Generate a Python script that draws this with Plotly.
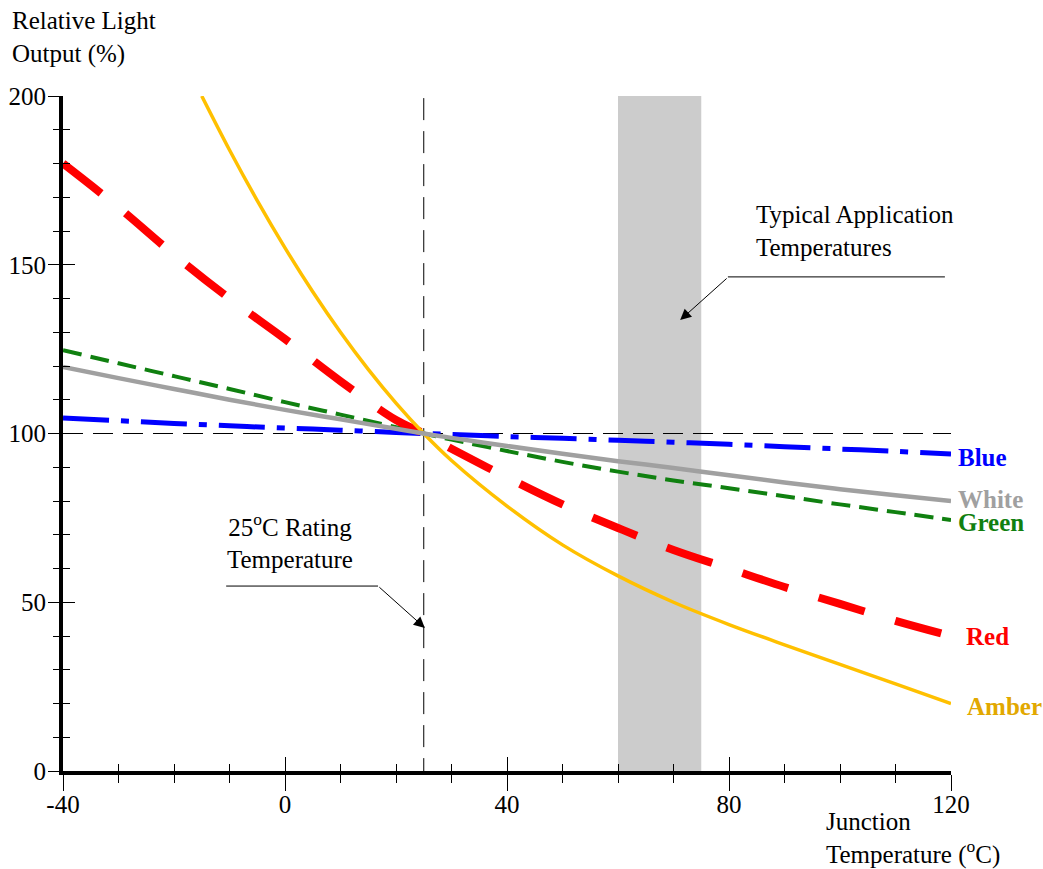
import plotly.graph_objects as go

# ---------------- data ----------------
temps = [-40, -30, -20, -10, 0, 10, 20, 25, 30, 40, 50, 60, 70, 80, 90, 100, 110, 120]
blue = [104.6, 103.8, 103, 102.3, 101.6, 101, 100.3, 100, 99.7, 99.1, 98.6, 98, 97.4, 96.8, 96.1, 95.4, 94.7, 93.9]
white = [119.7, 116.4, 113.2, 110, 107, 104.2, 101.4, 100, 98.7, 96.3, 94, 91.8, 89.8, 87.6, 85.5, 83.5, 81.7, 80]
green = [124.7, 120.8, 117, 113.2, 109.3, 105.6, 101.9, 100, 98.2, 94.8, 91.6, 88.7, 86.1, 83.8, 81.4, 79, 76.7, 74.4]
red = [180, 167, 153, 140, 128, 115.5, 104, 100, 95.5, 87, 79, 72, 65.5, 60, 54.5, 49.5, 44.5, 40]

amber_temps = [-15, -10, -5, 0, 5, 10, 15, 20, 25, 30, 40, 50, 60, 70, 80, 90, 100, 110, 120]
amber = [200, 184, 169, 155, 142, 130, 119, 109, 100, 92, 78.5, 67, 57.8, 50, 43.4, 37.4, 31.6, 25.8, 20]

rating_temp = 25          # vertical reference line
reference_level = 100     # horizontal reference line
band_start, band_end = 60, 75   # typical application temperatures
x_range = [-40, 120]
y_range = [0, 200]
x_ticks = [-40, 0, 40, 80, 120]
x_tick_text = ["-40", "0", "40", "80", "120"]
y_ticks = [0, 50, 100, 150, 200]
y_tick_text = ["0", "50", "100", "150", "200"]

FONT = "Liberation Serif"
C_BLUE = "#0000ff"
C_WHITE = "#a0a0a0"
C_GREEN = "#108010"
C_RED = "#ff0000"
C_AMBER = "#ffc000"
C_AMBER_TXT = "#e2a800"

fig = go.Figure()

# reference dashed lines
fig.add_trace(go.Scatter(x=x_range, y=[reference_level, reference_level], mode="lines",
                         line=dict(color="black", width=1, dash="20px,10px"), hoverinfo="skip"))
fig.add_trace(go.Scatter(x=[rating_temp, rating_temp], y=[y_range[0] - 2.7, y_range[1]], mode="lines",
                         line=dict(color="black", width=1, dash="22px,11px"), hoverinfo="skip",
                         cliponaxis=False))

# series
fig.add_trace(go.Scatter(x=temps, y=blue, mode="lines", name="Blue",
                         line=dict(color=C_BLUE, width=5, dash="46px,12px,8px,12px", shape="spline")))
fig.add_trace(go.Scatter(x=temps, y=green, mode="lines", name="Green",
                         line=dict(color=C_GREEN, width=4, dash="19px,9px", shape="spline")))
fig.add_trace(go.Scatter(x=temps, y=red, mode="lines", name="Red",
                         line=dict(color=C_RED, width=8, dash="48px,32px", shape="spline")))
fig.add_trace(go.Scatter(x=amber_temps, y=amber, mode="lines", name="Amber",
                         line=dict(color=C_AMBER, width=3.5, shape="spline")))
fig.add_trace(go.Scatter(x=temps, y=white, mode="lines", name="White",
                         line=dict(color=C_WHITE, width=4.5, shape="spline")))

# dummy trace for the overlay axes (inner tick halves)
fig.add_trace(go.Scatter(x=[], y=[], xaxis="x2", yaxis="y2", mode="lines", hoverinfo="skip"))

# gray band
fig.add_shape(type="rect", xref="x", yref="y", x0=band_start, x1=band_end, y0=y_range[0], y1=y_range[1],
              fillcolor="#cccccc", line=dict(width=0), layer="below")

tick_font = dict(family=FONT, size=25, color="black")

fig.update_layout(
    width=1043, height=869,
    margin=dict(l=63, r=92, t=96, b=98),
    paper_bgcolor="white", plot_bgcolor="white",
    showlegend=False,
    xaxis=dict(range=x_range, tickvals=x_ticks, ticktext=x_tick_text, ticks="outside", ticklen=16,
               tickwidth=1.3, tickcolor="black", showline=True, linewidth=4, linecolor="black",
               showgrid=False, zeroline=False, tickfont=tick_font, ticklabelstandoff=-8, automargin=False,
               minor=dict(dtick=10, tick0=0, ticks="outside", ticklen=8, tickwidth=1.1, tickcolor="black",
                          showgrid=False)),
    yaxis=dict(range=y_range, tickvals=y_ticks, ticktext=y_tick_text, ticks="outside", ticklen=11,
               tickwidth=1.3, tickcolor="black", showline=True, linewidth=4, linecolor="black",
               showgrid=False, zeroline=False, tickfont=tick_font, ticklabelstandoff=-3, automargin=False,
               minor=dict(dtick=10, tick0=0, ticks="outside", ticklen=6, tickwidth=1.1, tickcolor="black",
                          showgrid=False)),
    xaxis2=dict(range=x_range, overlaying="x", anchor="y", side="bottom", tickvals=x_ticks,
                ticks="inside", ticklen=14, tickwidth=1.3, tickcolor="black", showticklabels=False,
                showline=False, showgrid=False, zeroline=False, automargin=False,
                minor=dict(dtick=10, tick0=0, ticks="inside", ticklen=7, tickwidth=1.1, tickcolor="black",
                           showgrid=False)),
    yaxis2=dict(range=y_range, overlaying="y", anchor="x", side="left", tickvals=y_ticks,
                ticks="inside", ticklen=12, tickwidth=1.3, tickcolor="black", showticklabels=False,
                showline=False, showgrid=False, zeroline=False, automargin=False,
                minor=dict(dtick=10, tick0=0, ticks="inside", ticklen=7, tickwidth=1.1, tickcolor="black",
                           showgrid=False)),
)

annos = []
txt = dict(family=FONT, size=25, color="black")

# axis titles
annos.append(dict(xref="paper", yref="paper", x=-0.0597, y=1.0867, xanchor="left", yanchor="middle",
                  text="Relative Light<br>Output (%)", showarrow=False, align="left", font=txt))
annos.append(dict(xref="paper", yref="paper", x=0.857, y=-0.1007, xanchor="left", yanchor="middle",
                  text="Junction<br>Temperature (<sup>o</sup>C)", showarrow=False, align="left", font=txt))

# Typical application annotation
annos.append(dict(xref="x", yref="y", x=84.5, y=160.1, xanchor="left", yanchor="middle",
                  text="Typical Application<br>Temperatures", showarrow=False, align="left", font=txt))
fig.add_shape(type="line", xref="x", yref="y", x0=79.8, x1=118.9, y0=146.4, y1=146.4,
              line=dict(color="black", width=1))
annos.append(dict(xref="x", yref="y", x=71.2, y=133.6, ax=48, ay=-43, text="", showarrow=True,
                  arrowhead=2, arrowsize=2.2, arrowwidth=1, arrowcolor="black"))

# Rating temperature annotation
annos.append(dict(xref="x", yref="y", x=0.9, y=68.1, xanchor="center", yanchor="middle",
                  text="25<sup>o</sup>C Rating<br>Temperature", showarrow=False, align="center", font=txt))
fig.add_shape(type="line", xref="x", yref="y", x0=-10.6, x1=16.76, y0=54.8, y1=54.8,
              line=dict(color="black", width=1))
annos.append(dict(xref="x", yref="y", x=25.2, y=42.4, ax=-47, ay=-42, text="", showarrow=True,
                  arrowhead=2, arrowsize=2.2, arrowwidth=1, arrowcolor="black"))

# series labels
labels = [("Blue", blue[-1], C_BLUE, 5, -3.5),
          ("White", white[-1], C_WHITE, 5, 2),
          ("Green", green[-1], C_GREEN, 5, -3),
          ("Red", red[-1], C_RED, 13, 0),
          ("Amber", amber[-1], C_AMBER_TXT, 14, -2.5)]
for name, yv, col, xs, ys in labels:
    annos.append(dict(xref="x", yref="y", x=x_range[1], y=yv, xanchor="left", yanchor="middle",
                      xshift=xs, yshift=ys, text="<b>" + name + "</b>", showarrow=False,
                      font=dict(family=FONT, size=25, color=col)))

fig.update_layout(annotations=annos)

fig.write_html("out.html", config={"displayModeBar": False},
               post_script="document.body.style.margin='0';document.body.style.overflow='hidden';")
